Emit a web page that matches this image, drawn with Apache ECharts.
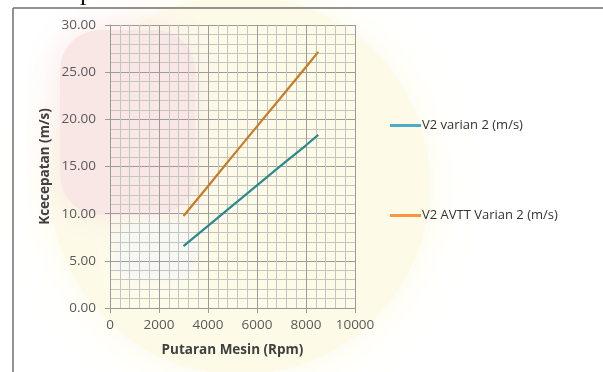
<!DOCTYPE html>
<html>
<head>
<meta charset="utf-8">
<script src="https://cdn.jsdelivr.net/npm/echarts@6/dist/echarts.min.js"></script>
<style>
html,body{margin:0;padding:0;background:#ffffff;}
#chart{width:603px;height:372px;}
</style>
</head>
<body>
<div id="chart"></div>
<script>
// Data
const rpm = [3000, 4000, 5000, 6000, 7000, 8000, 8500];
const v2Varian2 = [6.55, 8.70, 10.85, 13.00, 15.15, 17.25, 18.35];
const v2AvttVarian2 = [9.75, 12.90, 16.10, 19.25, 22.40, 25.55, 27.15];
const seriesNames = ['V2 varian 2 (m/s)', 'V2 AVTT Varian 2 (m/s)'];
const xTitle = 'Putaran Mesin (Rpm)';
const yTitle = 'Kcecepatan (m/s)';

const toPairs = (xs, ys) => xs.map((x, i) => [x, ys[i]]);

const chart = echarts.init(document.getElementById('chart'), null, {renderer: 'canvas'});
const labelFont = 'Open Sans';
chart.setOption({
  animation: false,
  backgroundColor: '#ffffff',
  graphic: [
    // faded watermark-like background tones
    {type: 'circle', z: -20, shape: {cx: 240, cy: 185, r: 190},
     style: {fill: '#fdfbe8', shadowBlur: 60, shadowColor: '#fdfbe8'}},
    {type: 'rect', z: -19, shape: {x: 60, y: 30, width: 135, height: 185, r: 40},
     style: {fill: '#f9e7e6', shadowBlur: 40, shadowColor: '#f9e7e6'}},
    {type: 'rect', z: -18, shape: {x: 115, y: 225, width: 80, height: 55, r: 20},
     style: {fill: '#f7f7f4', shadowBlur: 20, shadowColor: '#f7f7f4'}},
    // outer frame
    {type: 'line', z: 10, shape: {x1: 13, y1: 8, x2: 603, y2: 8},
     style: {stroke: '#6e6e6e', lineWidth: 1.5}},
    {type: 'line', z: 10, shape: {x1: 13, y1: 8, x2: 13, y2: 372},
     style: {stroke: '#6e6e6e', lineWidth: 1.5}},
    // cut-off heading glyph at the top
    {type: 'text', z: 10, style: {text: 'p', x: 80, y: 6, fill: '#111',
      font: '26px "Liberation Serif"', textVerticalAlign: 'bottom'}}
  ],
  grid: {left: 110, right: 248, top: 25, bottom: 64, containLabel: false},
  xAxis: {
    type: 'value', min: 0, max: 10000, interval: 2000,
    name: xTitle, nameLocation: 'middle', nameGap: 35,
    nameTextStyle: {fontFamily: labelFont, fontWeight: 'bold', fontSize: 13.5, color: '#404040'},
    axisLine: {show: true, lineStyle: {color: '#9a9a9a'}},
    axisTick: {show: true, length: 5, lineStyle: {color: '#9a9a9a'}},
    axisLabel: {fontFamily: labelFont, fontSize: 13.5, color: '#595959', margin: 10,
      formatter: v => String(v)},
    splitLine: {show: true, lineStyle: {color: '#9c9c9c', width: 1}},
    minorTick: {show: false, splitNumber: 5},
    minorSplitLine: {show: true, lineStyle: {color: '#c4c4c0', width: 1}}
  },
  yAxis: {
    type: 'value', min: 0, max: 30, interval: 5,
    name: yTitle, nameLocation: 'middle', nameGap: 58, nameRotate: 90,
    nameTextStyle: {fontFamily: labelFont, fontWeight: 'bold', fontSize: 13.5, color: '#404040'},
    axisLine: {show: true, lineStyle: {color: '#9a9a9a'}},
    axisTick: {show: true, length: 5, lineStyle: {color: '#9a9a9a'}},
    axisLabel: {fontFamily: labelFont, fontSize: 13.5, color: '#595959', margin: 14,
      formatter: v => v.toFixed(2)},
    splitLine: {show: true, lineStyle: {color: '#9c9c9c', width: 1}},
    minorTick: {show: false, splitNumber: 5},
    minorSplitLine: {show: true, lineStyle: {color: '#c4c4c0', width: 1}}
  },
  legend: [
    {orient: 'vertical', left: 385, top: 114, itemWidth: 31, itemHeight: 3, itemGap: 4,
     icon: 'rect',
     textStyle: {fontFamily: labelFont, fontSize: 13, color: '#333333', padding: [0,0,0,-4]},
     data: [{name: seriesNames[0], itemStyle: {color: '#4bacc6'}}]},
    {orient: 'vertical', left: 385, top: 204, itemWidth: 31, itemHeight: 3, itemGap: 4,
     icon: 'rect',
     textStyle: {fontFamily: labelFont, fontSize: 13, color: '#333333', padding: [0,0,0,-4]},
     data: [{name: seriesNames[1], itemStyle: {color: '#f79646'}}]}
  ],
  series: [
    {name: seriesNames[0], type: 'line', data: toPairs(rpm, v2Varian2),
     showSymbol: false, symbol: 'none', color: '#2a8a8c',
     lineStyle: {color: '#2a8a8c', width: 2.2}},
    {name: seriesNames[1], type: 'line', data: toPairs(rpm, v2AvttVarian2),
     showSymbol: false, symbol: 'none', color: '#c97b25',
     lineStyle: {color: '#c97b25', width: 2.2}}
  ]
});
</script>
</body>
</html>
